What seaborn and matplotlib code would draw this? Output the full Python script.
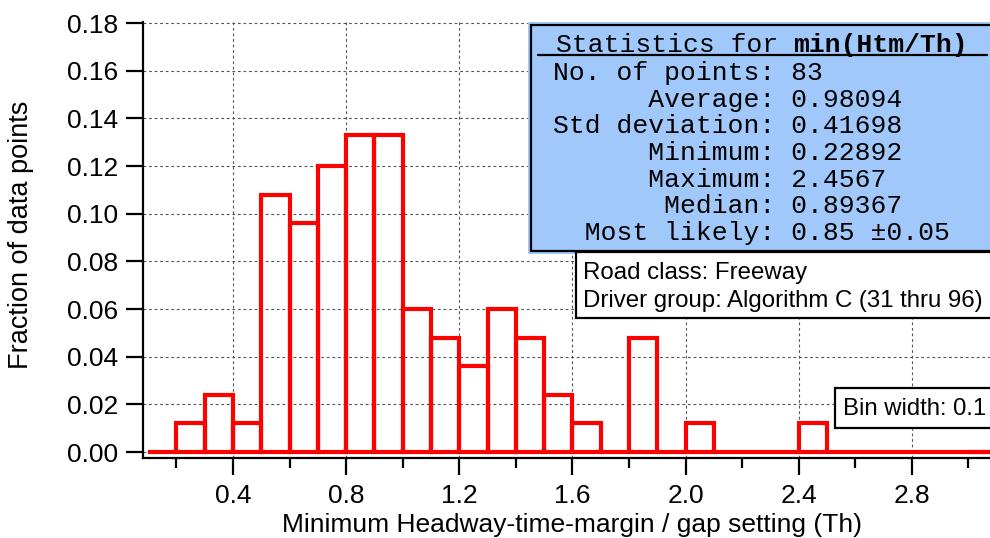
import numpy as np
import pandas as pd
import matplotlib
matplotlib.use("Agg")
import matplotlib.pyplot as plt
from matplotlib.patches import Rectangle
from matplotlib.lines import Line2D
from matplotlib.transforms import offset_copy
import seaborn as sns

# ---- data ----
bin_start, bin_stop, bin_width = 0.1, 3.1, 0.1
bin_centers = [0.15, 0.25, 0.35, 0.45, 0.55, 0.65, 0.75, 0.85, 0.95, 1.05,
               1.15, 1.25, 1.35, 1.45, 1.55, 1.65, 1.75, 1.85, 1.95, 2.05,
               2.15, 2.25, 2.35, 2.45, 2.55, 2.65, 2.75, 2.85, 2.95, 3.05]
fractions = [0.000, 0.012, 0.024, 0.012, 0.108, 0.096, 0.120, 0.133, 0.133, 0.060,
             0.048, 0.036, 0.060, 0.048, 0.024, 0.012, 0.000, 0.048, 0.000, 0.012,
             0.000, 0.000, 0.000, 0.012, 0.000, 0.000, 0.000, 0.000, 0.000, 0.000]

x_major = [0.4, 0.8, 1.2, 1.6, 2.0, 2.4, 2.8]
x_minor = [0.2, 0.6, 1.0, 1.4, 1.8, 2.2, 2.6, 3.0]
y_ticks = [0.00, 0.02, 0.04, 0.06, 0.08, 0.10, 0.12, 0.14, 0.16, 0.18]

stat_title = "Statistics for"
stat_var = "min(Htm/Th)"
stat_labels = ["No. of points:", "Average:", "Std deviation:", "Minimum:",
               "Maximum:", "Median:", "Most likely:"]
stat_values = ["83", "0.98094", "0.41698", "0.22892", "2.4567", "0.89367", "0.85 \u00b10.05"]
info_lines = ["Road class: Freeway", "Driver group: Algorithm C (31 thru 96)"]
bin_text = "Bin width: 0.1"

df = pd.DataFrame({"center": bin_centers, "fraction": fractions})

# ---- figure ----
sns.set_style("white")
plt.rcParams['font.family'] = ['Liberation Sans', 'DejaVu Sans']
plt.rcParams['text.color'] = 'black'
plt.rcParams['axes.labelcolor'] = 'black'

W, H = 990, 538
fig = plt.figure(figsize=(9.9, 5.38), dpi=100)
ax = fig.add_axes([143 / W, 1 - 458 / H, 847 / W, 436 / H])

sns.histplot(data=df, x="center", weights="fraction", binwidth=bin_width,
             binrange=(bin_start, bin_stop), element="bars",
             fill=False, color="#ff0000", linewidth=3.0, ax=ax, zorder=3)

ax.set_xlim(0.082, 3.076)
ax.set_ylim(-0.0025, 0.1805)

for s in ["top", "right"]:
    ax.spines[s].set_visible(False)
for s in ["left", "bottom"]:
    ax.spines[s].set_linewidth(1.6)
    ax.spines[s].set_color("black")

ax.set_xticks(x_major)
ax.set_xticklabels([f"{v:.1f}" for v in x_major])
ax.set_xticks(x_minor, minor=True)
ax.set_yticks(y_ticks)
ax.set_yticklabels([f"{v:.2f}" for v in y_ticks])

ax.tick_params(axis="both", which="major", direction="out", length=12, width=1.6,
               labelsize=19, color="black", labelcolor="black")
ax.tick_params(axis="x", which="major", pad=7)
ax.tick_params(axis="y", which="major", pad=6)
ax.tick_params(axis="x", which="minor", direction="out", length=7, width=1.6, color="black")
ax.tick_params(left=True, bottom=True)
ax.tick_params(axis="x", which="minor", bottom=True)

ax.grid(True, which="major", color="#555555", linestyle=(0, (2.5, 2.5)), linewidth=0.8)
ax.set_axisbelow(True)

ax.set_xlabel("Minimum Headway-time-margin / gap setting (Th)", fontsize=19, color="black")
ax.set_ylabel("Fraction of data points", fontsize=19.5, color="black")
ax.xaxis.label.set_va("baseline")
ax.xaxis.set_label_coords((572 - 143) / 847, (458 - 532) / 436)
ax.yaxis.label.set_va("center")
ax.yaxis.set_label_coords((21 - 143) / 847, (458 - 235) / 436)


def fx(px):
    return px / W


def fy(py):
    return 1 - py / H


# stats box
fig.add_artist(Rectangle((fx(528), fy(254)), fx(1010) - fx(528), fy(22) - fy(254),
                         transform=fig.transFigure, facecolor="#a0c8fa",
                         edgecolor="none", zorder=5))
fig.add_artist(Rectangle((fx(531), fy(251)), fx(1010) - fx(531), fy(25) - fy(251),
                         transform=fig.transFigure, facecolor="#a0c8fa",
                         edgecolor="black", linewidth=1.6, zorder=6))
fig.add_artist(Line2D([fx(538), fx(987)], [fy(55), fy(55)], transform=fig.transFigure,
                      color="black", linewidth=1.6, zorder=7))

mono = ["Liberation Mono", "DejaVu Sans Mono"]
mfs = 19
x0 = 553
fig.text(fx(556), fy(52), stat_title, family=mono, fontsize=mfs, va="baseline",
         ha="left", zorder=8, color="black")
bold_tr = offset_copy(fig.transFigure, fig=fig, x=15 * 0.6 * mfs, y=0, units="points")
fig.text(fx(556), fy(52), stat_var, family=mono, fontsize=mfs, va="baseline",
         ha="left", fontweight="bold", zorder=8, color="black", transform=bold_tr)
baselines = [80, 107, 133, 160, 187, 213, 240]
for lab, val, yb in zip(stat_labels, stat_values, baselines):
    fig.text(fx(x0), fy(yb), lab.rjust(14) + " " + val, family=mono, fontsize=mfs,
             va="baseline", ha="left", zorder=8, color="black")

# info box
fig.add_artist(Rectangle((fx(576), fy(318)), fx(1010) - fx(576), fy(252) - fy(318),
                         transform=fig.transFigure, facecolor="white",
                         edgecolor="black", linewidth=1.6, zorder=9))
for line, yb in zip(info_lines, [279, 307]):
    fig.text(fx(583), fy(yb), line, fontsize=17.3, va="baseline", ha="left", zorder=10,
             color="black")

# bin width box
fig.add_artist(Rectangle((fx(835), fy(428)), fx(1010) - fx(835), fy(388) - fy(428),
                         transform=fig.transFigure, facecolor="white",
                         edgecolor="black", linewidth=1.6, zorder=9))
fig.text(fx(843), fy(415), bin_text, fontsize=17.2, va="baseline", ha="left", zorder=10,
         color="black")

fig.savefig("out.png", dpi=100)
